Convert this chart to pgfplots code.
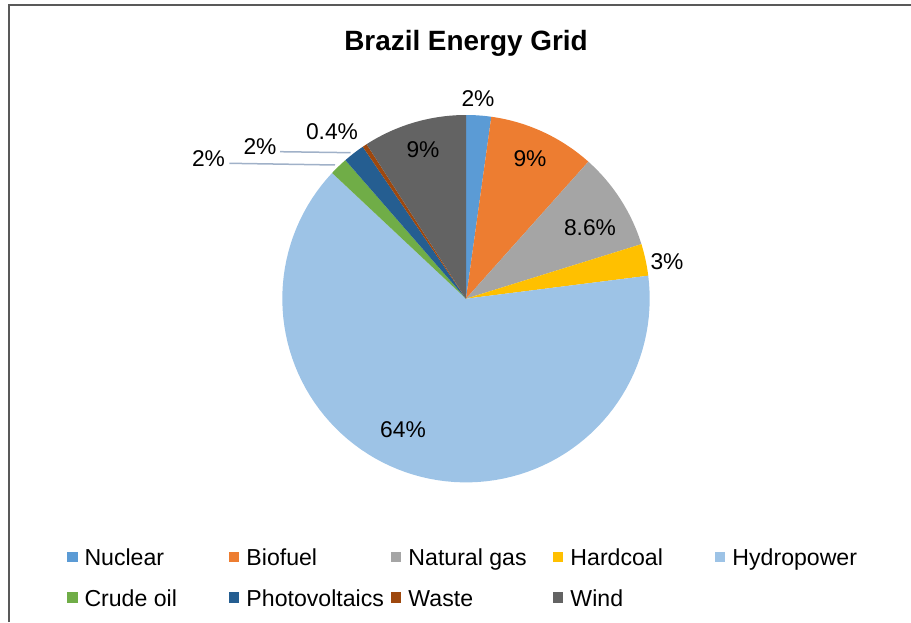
\documentclass[border=0pt]{standalone}
\usepackage{fontspec}
\setmainfont{Liberation Sans}
\usepackage{pgfplots}
\pgfplotsset{compat=1.18}
\definecolor{cNuc}{RGB}{91,155,213}
\definecolor{cBio}{RGB}{237,125,49}
\definecolor{cGas}{RGB}{165,165,165}
\definecolor{cCoal}{RGB}{255,192,0}
\definecolor{cHyd}{RGB}{157,195,230}
\definecolor{cOil}{RGB}{112,173,71}
\definecolor{cPV}{RGB}{37,94,145}
\definecolor{cWaste}{RGB}{158,72,14}
\definecolor{cWind}{RGB}{99,99,99}
\definecolor{cLead}{RGB}{160,177,200}
\definecolor{cFrame}{RGB}{89,89,89}

\def\cx{466}\def\cy{323.3}\def\rr{183.7}
\xdef\cum{0}
% value (percent), colour; slices run clockwise from 12 o'clock
\newcommand\pieslice[2]{%
  \pgfmathsetmacro\angA{90-3.6*(\cum+#1)}%
  \pgfmathsetmacro\angB{90-3.6*(\cum)}%
  \edef\temp{\noexpand\addplot[fill=#2, draw=none, domain=\angA:\angB, samples=90, variable=\noexpand\t]
    ({\cx+\rr*cos(\noexpand\t)},{\cy+\rr*sin(\noexpand\t)}) -- (axis cs:\cx,\cy) -- cycle;}%
  \temp
  \pgfmathsetmacro\newcum{\cum+#1}%
  \xdef\cum{\newcum}%
}
\newcommand\lbl{\fontsize{22.8}{27}\selectfont}
\newcommand\lgdfont{\fontsize{23.1}{27}\selectfont}
\newcommand\lgd[1]{\makebox[144.5pt][l]{\strut #1}}

\begin{document}
\begin{tikzpicture}
\useasboundingbox (0,0) rectangle (911pt,622pt);
\begin{axis}[at={(0,0)}, anchor=south west, scale only axis,
  width=911pt, height=622pt, xmin=0, xmax=911, ymin=0, ymax=622,
  axis lines=none, clip=false,
  legend columns=5,
  legend image code/.code={\fill[#1] (0pt,-5pt) rectangle (10.5pt,5.5pt);},
  legend style={draw=none, fill=none, at={(axis cs:67,75)}, anchor=north west,
    inner sep=0pt, outer sep=0pt, row sep=20pt, font=\lgdfont,
    nodes={inner sep=0pt, outer sep=0pt}, cells={anchor=west},
    /tikz/every odd column/.append style={column sep=7pt},
    /tikz/every even column/.append style={column sep=0pt}},
]
\pieslice{2.2}{cNuc}
\pieslice{9.4}{cBio}
\pieslice{8.6}{cGas}
\pieslice{2.8}{cCoal}
\pieslice{64.0}{cHyd}
\pieslice{1.6}{cOil}
\pieslice{1.9}{cPV}
\pieslice{0.4}{cWaste}
\pieslice{9.1}{cWind}
\legend{\lgd{Nuclear},\lgd{Biofuel},\lgd{Natural gas},\lgd{Hardcoal},\lgd{Hydropower},
  \lgd{Crude oil},\lgd{Photovoltaics},\lgd{Waste},\lgd{Wind}}

% frame
\draw[cFrame, line width=1.6pt] (axis cs:9,0) -- (axis cs:9,617) -- (axis cs:911,617);
% title
\node[font=\fontsize{27.9}{33}\selectfont\bfseries] at (axis cs:466,579) {Brazil Energy Grid};
% leader lines
\draw[cLead, line width=1.5pt] (axis cs:229.3,458.7) -- (axis cs:335,457);
\draw[cLead, line width=1.5pt] (axis cs:280,470.3) -- (axis cs:350.7,469.3);
% data labels
\node[font=\lbl] at (axis cs:478,523) {2\%};
\node[font=\lbl] at (axis cs:530,463.7) {9\%};
\node[font=\lbl] at (axis cs:590,394) {8.6\%};
\node[font=\lbl] at (axis cs:667,360) {3\%};
\node[font=\lbl] at (axis cs:403,192) {64\%};
\node[font=\lbl] at (axis cs:208.5,463) {2\%};
\node[font=\lbl] at (axis cs:260,475.5) {2\%};
\node[font=\lbl] at (axis cs:332,490.5) {0.4\%};
\node[font=\lbl] at (axis cs:423,472) {9\%};
\end{axis}
\end{tikzpicture}
\end{document}
